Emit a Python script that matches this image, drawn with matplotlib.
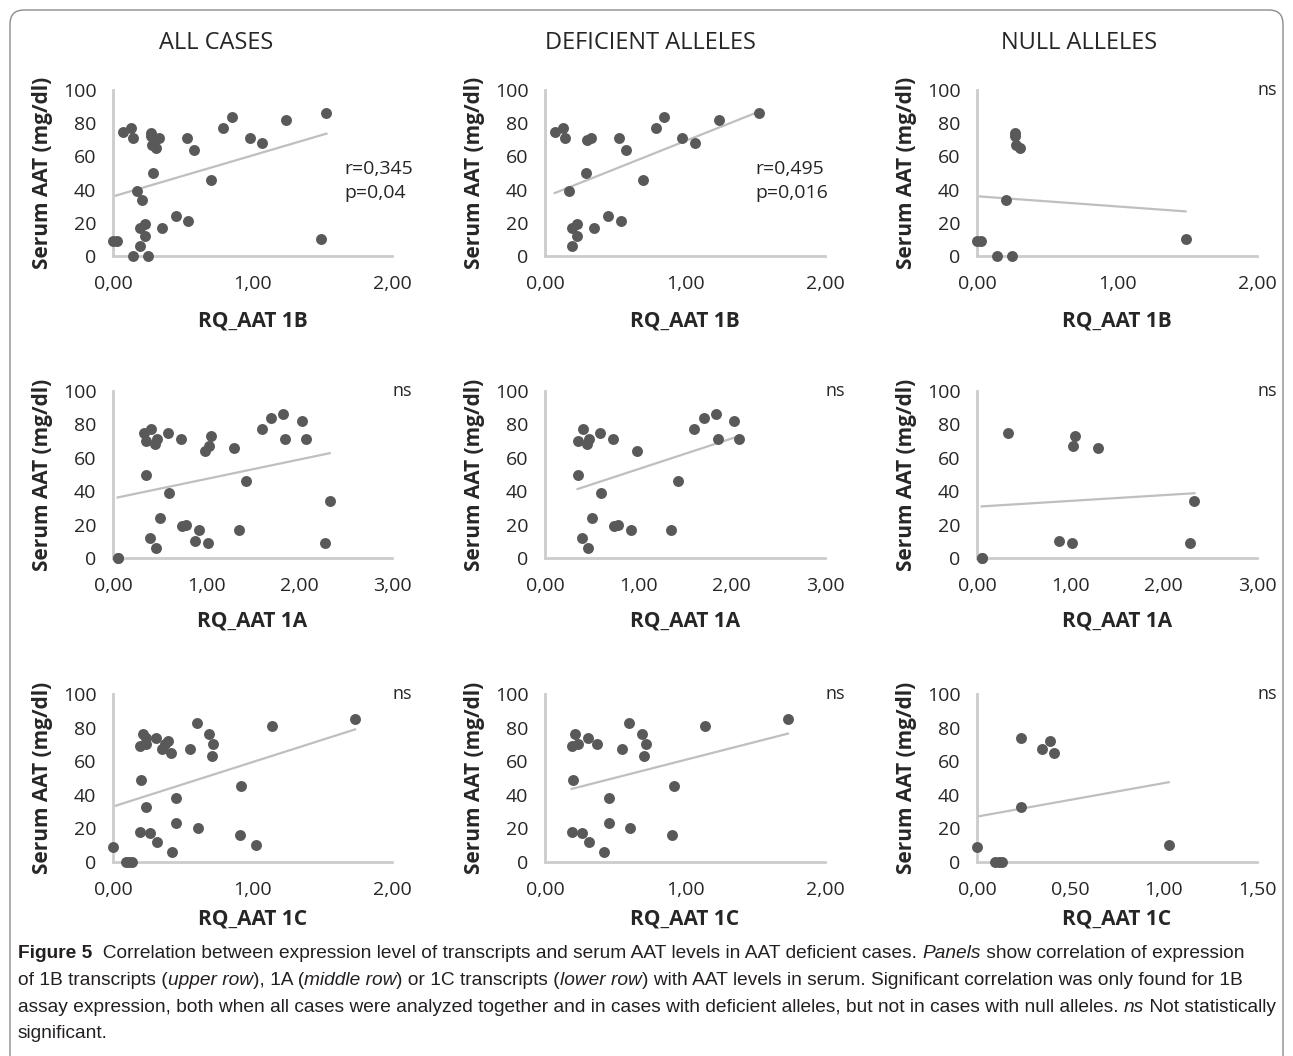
import matplotlib
matplotlib.use('Agg')
import matplotlib.pyplot as plt
import numpy as np
from matplotlib.patches import FancyBboxPatch
from matplotlib.transforms import IdentityTransform
from matplotlib.ticker import FuncFormatter

plt.rcParams['font.family'] = ['Open Sans', 'DejaVu Sans']

# ---- data: deficient alleles / null alleles, per assay ----
# 1B
def_1b_x = [0.07, 0.13, 0.14, 0.30, 0.33, 0.53, 0.58, 0.79, 0.85, 0.98, 1.07, 1.24, 1.53,
            0.29, 0.70, 0.17, 0.45, 0.54, 0.19, 0.23, 0.35, 0.23, 0.19]
def_1b_y = [75, 77, 71, 70, 71, 71, 64, 77, 84, 71, 68, 82, 86,
            50, 46, 39, 24, 21, 17, 19, 17, 12, 6]
null_1b_x = [0.00, 0.03, 0.14, 0.25, 0.21, 0.27, 0.27, 0.28, 0.31, 1.49]
null_1b_y = [9, 9, 0, 0, 34, 74, 72, 67, 65, 10]
# 1A
def_1a_x = [0.35, 0.41, 0.45, 0.47, 0.59, 0.73, 0.99, 1.60, 1.70, 1.83, 2.03, 1.85, 2.08,
            0.35, 1.43, 0.60, 0.50, 0.74, 0.78, 0.92, 1.35, 0.40, 0.46]
def_1a_y = [70, 77, 68, 71, 75, 71, 64, 77, 84, 86, 82, 71, 71,
            50, 46, 39, 24, 19, 20, 17, 17, 12, 6]
null_1a_x = [0.05, 0.05, 0.33, 1.05, 1.03, 1.30, 0.88, 1.02, 2.28, 2.33]
null_1a_y = [0, 0, 75, 73, 67, 66, 10, 9, 9, 34]
# 1C
def_1c_x = [0.19, 0.215, 0.235, 0.31, 0.37, 0.55, 0.60, 0.69, 0.72, 0.71, 1.14, 1.735,
            0.20, 0.92, 0.455, 0.455, 0.61, 0.19, 0.265, 0.315, 0.91, 0.42]
def_1c_y = [69, 76, 70, 74, 70, 67, 83, 76, 70, 63, 81, 85,
            49, 45, 38, 23, 20, 18, 17, 12, 16, 6]
null_1c_x = [0.00, 0.095, 0.116, 0.134, 0.234, 0.234, 0.35, 0.393, 0.413, 1.027]
null_1c_y = [9, 0, 0, 0, 74, 33, 67, 72, 65, 10]

col_titles = ['ALL CASES', 'DEFICIENT ALLELES', 'NULL ALLELES']
x_labels = ['RQ_AAT 1B', 'RQ_AAT 1A', 'RQ_AAT 1C']
x_limits = [[2, 2, 2], [3, 3, 3], [2, 2, 1.5]]
x_steps = [[1, 1, 1], [1, 1, 1], [1, 1, 0.5]]
stats = [['r=0,345\np=0,04', 'r=0,495\np=0,016', 'ns'],
         ['ns', 'ns', 'ns'],
         ['ns', 'ns', 'ns']]

rows = [(def_1b_x, def_1b_y, null_1b_x, null_1b_y),
        (def_1a_x, def_1a_y, null_1a_x, null_1a_y),
        (def_1c_x, def_1c_y, null_1c_x, null_1c_y)]

# layout in pixels
W, H = 1293, 1056
col_left = [113, 545, 977]
col_right = [392, 825, 1257]
row_top = [90, 391, 694]
row_bottom = [256, 558, 862]
xlabel_y = [321, 621, 919]
title_x = [216, 650, 1079]

dot_color = '#595959'
trend_color = '#bfbfbf'
axis_color = '#cccccc'
text_color = '#262626'

fig = plt.figure(figsize=(W / 100, H / 100), dpi=100)

comma_fmt = FuncFormatter(lambda v, p: ('%.2f' % v).replace('.', ','))

for r in range(3):
    dx, dy, nx, ny = rows[r]
    panels = [(dx + nx, dy + ny), (dx, dy), (nx, ny)]
    for c in range(3):
        px, py = np.array(panels[c][0]), np.array(panels[c][1])
        l, rr = col_left[c], col_right[c]
        t, b = row_top[r], row_bottom[r]
        ax = fig.add_axes([l / W, 1 - b / H, (rr - l) / W, (b - t) / H])
        ax.set_xlim(0, x_limits[r][c])
        ax.set_ylim(0, 100)
        ax.scatter(px, py, s=62, color=dot_color, zorder=3, clip_on=False,
                   linewidths=0)
        k, d = np.polyfit(px, py, 1)
        xs = np.array([px.min(), px.max()])
        ax.plot(xs, k * xs + d, color=trend_color, lw=1.6, zorder=2)

        for s in ['top', 'right']:
            ax.spines[s].set_visible(False)
        for s in ['left', 'bottom']:
            ax.spines[s].set_color(axis_color)
            ax.spines[s].set_linewidth(2)
        ax.set_xticks(np.arange(0, x_limits[r][c] + 0.01, x_steps[r][c]))
        ax.set_yticks(range(0, 101, 20))
        ax.xaxis.set_major_formatter(comma_fmt)
        ax.tick_params(length=0, labelsize=14, colors=text_color)
        ax.tick_params(axis='x', pad=14)
        ax.tick_params(axis='y', pad=12)
        ax.set_ylabel('Serum AAT (mg/dl)', fontsize=15, fontweight='bold',
                      color=text_color)
        ax.yaxis.set_label_coords(-0.215, 0.5)
        ax.set_xlabel(x_labels[r], fontsize=15, fontweight='bold', color=text_color)
        ax.xaxis.set_label_coords(0.5, -(xlabel_y[r] - b) / (b - t))
        ax.xaxis.label.set_va('center')

        if stats[r][c] == 'ns':
            ax.text(1 + 20 / (rr - l), 1.0, 'ns', transform=ax.transAxes,
                    ha='right', va='center', fontsize=13, color=text_color)
        else:
            sx = 0.83 if c == 0 else 0.75
            ax.text(sx, 0.45, stats[r][c], transform=ax.transAxes, ha='left',
                    va='center', fontsize=14, color=text_color, linespacing=1.45)

for c in range(3):
    fig.text(title_x[c] / W, 1 - 43 / H, col_titles[c], ha='center', va='center',
             fontsize=17, color=text_color)

# frame round the figure
frame = FancyBboxPatch((10, -30), 1273, 1056 - 10 + 30,
                       boxstyle='round,pad=0,rounding_size=14',
                       transform=IdentityTransform(), fill=False,
                       edgecolor='#8c8c8c', lw=1)
fig.patches.append(frame)

# caption
cap_font = ['Liberation Sans', 'DejaVu Sans']
cap_size = 13.0
cap_lines = [
    [('Figure 5', 'bold'), ('  Correlation between expression level of transcripts and serum AAT levels in AAT deficient cases. ', 'normal'),
     ('Panels', 'italic'), (' show correlation of expression', 'normal')],
    [('of 1B transcripts (', 'normal'), ('upper row', 'italic'), ('), 1A (', 'normal'), ('middle row', 'italic'),
     (') or 1C transcripts (', 'normal'), ('lower row', 'italic'),
     (') with AAT levels in serum. Significant correlation was only found for 1B', 'normal')],
    [('assay expression, both when all cases were analyzed together and in cases with deficient alleles, but not in cases with null alleles. ', 'normal'),
     ('ns', 'italic'), (' Not statistically', 'normal')],
    [('significant.', 'normal')],
]
cap_y = [958, 985, 1012, 1038]

fig.canvas.draw()
renderer = fig.canvas.get_renderer()


def style_kw(style, size):
    kw = dict(fontsize=size, family=cap_font)
    if style == 'bold':
        kw['fontweight'] = 'bold'
    elif style == 'italic':
        kw['fontstyle'] = 'italic'
    return kw


def text_width(s, style, size):
    t1 = fig.text(0, 0, '|' + s + '|', **style_kw(style, size))
    t2 = fig.text(0, 0, '||', **style_kw(style, size))
    w = t1.get_window_extent(renderer).width - t2.get_window_extent(renderer).width
    t1.remove()
    t2.remove()
    return w


# fit the longest caption line between x=18 and x=1275
long_w = sum(text_width(s, st, cap_size) for s, st in cap_lines[2])
cap_size = cap_size * (1275 - 18) / long_w

for line, yy in zip(cap_lines, cap_y):
    x = 18
    for s, style in line:
        fig.text(x / W, 1 - yy / H, s, color='#231f20', va='baseline',
                 **style_kw(style, cap_size))
        x += text_width(s, style, cap_size)

fig.savefig('out.png', dpi=100)
